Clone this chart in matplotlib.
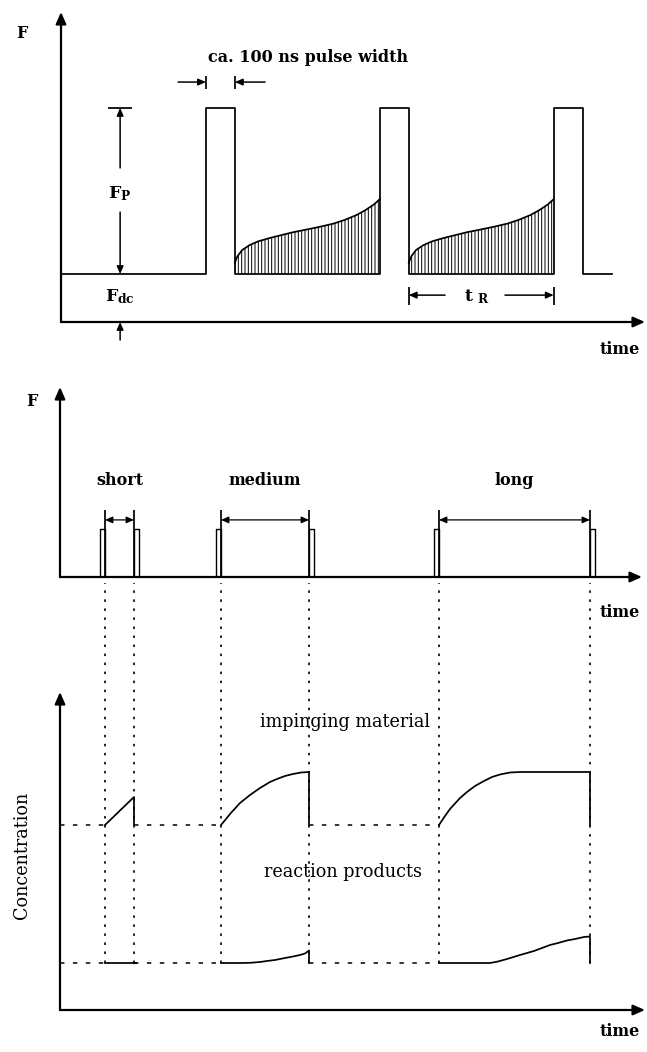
import matplotlib.pyplot as plt
import numpy as np

plt.rcParams["font.family"] = "DejaVu Serif"
plt.rcParams["mathtext.fontset"] = "dejavuserif"
plt.rcParams["lines.scale_dashes"] = False
plt.rcParams["hatch.linewidth"] = 0.7

# ---- panel 1: pulsed flux, time in ns, flux in units of F_dc ----
pulse_starts_ns = [500, 1100, 1700]
pulse_width_ns = 100
trace_end_ns = 1900
time_end_ns = 2015
f_dc = 1.0
f_peak = 4.46
f_top = 6.46
# desorption tail between pulses (height above F_dc), hatched area
tail_dt_ns = [0, 5, 10, 25, 50, 80, 120, 160, 200, 250, 290, 340, 380, 420, 450, 480, 500]
tail_f = [0.23, 0.32, 0.38, 0.50, 0.60, 0.68, 0.75, 0.81, 0.87, 0.93, 0.98, 1.05, 1.13, 1.23, 1.33, 1.45, 1.56]

# ---- panel 2: probe pulse pairs, arbitrary time units ----
interval_names = ["short", "medium", "long"]
interval_start = [4.5, 16.1, 37.9]
interval_end = [7.4, 24.9, 53.0]
probe_width = 0.5
probe_height = 1.0
p2_time_end = 58.2
p2_top = 3.96

# ---- panel 3: concentrations ----
imp_base = 18.5
rxn_base = 4.7
imp_t = [[4.5, 7.4],
         [16.1, 16.6, 17.0, 18.0, 19.0, 20.0, 21.0, 21.7, 22.5, 23.3, 24.1, 24.9],
         [37.9, 38.5, 39.0, 40.0, 40.7, 41.5, 42.4, 43.2, 44.0, 45.0, 46.0, 53.0]]
imp_c = [[18.5, 21.3],
         [18.5, 19.1, 19.6, 20.7, 21.5, 22.2, 22.8, 23.1, 23.4, 23.6, 23.75, 23.8],
         [18.5, 19.4, 20.1, 21.2, 21.8, 22.4, 22.9, 23.3, 23.55, 23.75, 23.8, 23.8]]
rxn_t = [[4.5, 7.6],
         [16.1, 18.0, 19.0, 20.0, 20.7, 21.5, 22.5, 23.3, 24.0, 24.5, 24.9],
         [37.9, 43.0, 43.8, 44.7, 46.0, 47.4, 48.2, 49.0, 49.8, 50.7, 51.5, 52.4, 53.0]]
rxn_c = [[4.7, 4.7],
         [4.7, 4.7, 4.72, 4.8, 4.9, 5.0, 5.2, 5.35, 5.5, 5.65, 5.95],
         [4.7, 4.7, 4.85, 5.1, 5.5, 5.9, 6.2, 6.5, 6.7, 6.95, 7.1, 7.3, 7.35]]
p3_time_end = 58.5
p3_c_top = 31.8
p3_ylim = 43.3

W, H = 647, 1052
fig = plt.figure(figsize=(W / 100, H / 100), dpi=100)


def px_axes(x0, x1, y_top, y_bottom):
    ax = fig.add_axes([x0 / W, 1 - y_bottom / H, (x1 - x0) / W, (y_bottom - y_top) / H])
    ax.set_axis_off()
    return ax


def arrow(ax, start, end, style="-|>", lw=1.1, ms=11):
    ax.annotate("", xy=end, xytext=start, annotation_clip=False,
                arrowprops=dict(arrowstyle=style + ",head_length=0.5,head_width=0.22",
                                color="k", lw=lw, mutation_scale=ms,
                                shrinkA=0, shrinkB=0))


bold = dict(fontsize=11.5, fontweight="bold", ha="center", va="center")
reg = dict(fontsize=12.7, ha="center", va="center")
dots = (0, (1.8, 4.7))
dashes = (0, (3.2, 6.1))
LW = 1.25
AXW = 1.6

# ================= panel 1 =================
ax1 = px_axes(61, 645, 12, 322)
ax1.set_xlim(0, time_end_ns)
ax1.set_ylim(0, f_top)

tx, ty = [0], [f_dc]
for s in pulse_starts_ns:
    e = s + pulse_width_ns
    tx += [s, s, e, e]
    ty += [f_dc, f_peak, f_peak, f_dc]
tx.append(trace_end_ns)
ty.append(f_dc)
ax1.plot(tx, ty, color="k", lw=LW)

for s in pulse_starts_ns[:-1]:
    t0 = s + pulse_width_ns
    t = np.array(tail_dt_ns) + t0
    f = np.array(tail_f) + f_dc
    ax1.fill_between(t, f_dc, f, facecolor="none", edgecolor="k",
                     hatch="|||||", linewidth=0)
    ax1.plot(t, f, color="k", lw=LW)

arrow(ax1, (0, 0), (0, f_top), lw=AXW, ms=14)
arrow(ax1, (0, 0), (time_end_ns, 0), lw=AXW, ms=14)

# pulse width marker
p0 = pulse_starts_ns[0]
p1 = p0 + pulse_width_ns
ax1.text(852, 5.52, "ca. 100 ns pulse width", **bold)
arrow(ax1, (p0 - 96, 5.0), (p0, 5.0), ms=9)
arrow(ax1, (p1 + 104, 5.0), (p1, 5.0), ms=9)
ax1.vlines([p0, p1], 4.86, 5.12, color="k", lw=LW)

# F_P and F_dc
xm = 204
ax1.hlines(f_peak, 162, 245, color="k", lw=LW)
arrow(ax1, (xm, 3.21), (xm, f_peak), ms=9)
arrow(ax1, (xm, 2.29), (xm, f_dc), ms=9)
ax1.text(xm, 2.68, r"$\mathbf{F_P}$", fontsize=12.5, ha="center", va="center")
ax1.text(xm, 0.52, r"$\mathbf{F_{dc}}$", fontsize=12.5, ha="center", va="center")
arrow(ax1, (xm, -0.375), (xm, 0), ms=9)

# t_R
r0 = pulse_starts_ns[1] + pulse_width_ns
r1 = pulse_starts_ns[2]
ax1.vlines([r0, r1], 0.35, 0.73, color="k", lw=LW)
arrow(ax1, (r0 + 125, 0.56), (r0, 0.56), ms=9)
arrow(ax1, (r1 - 168, 0.56), (r1, 0.56), ms=9)
ax1.text((r0 + r1) / 2 - 15, 0.52, r"$\mathbf{t\ _R}$", fontsize=12.5, ha="center", va="center")

ax1.text(-135, 6.02, "F", **bold)
ax1.text(1998, -0.58, "time", fontsize=11.5, fontweight="bold", ha="right", va="center")

# ================= panel 2 =================
ax2 = px_axes(60, 642, 387, 577)
ax2.set_xlim(0, p2_time_end)
ax2.set_ylim(0, p2_top)

for name, s, e in zip(interval_names, interval_start, interval_end):
    ax2.plot([s - probe_width, s - probe_width, s, s],
             [0, probe_height, probe_height, 0], color="k", lw=1.0)
    ax2.plot([e, e, e + probe_width, e + probe_width],
             [0, probe_height, probe_height, 0], color="k", lw=1.0)
    ax2.vlines([s, e], 0, 1.4, color="k", lw=LW)
    arrow(ax2, (s, 1.19), (e, 1.19), style="<|-|>", lw=0.9, ms=9)
    ax2.text((s + e) / 2, 2.02, name, **bold)

arrow(ax2, (0, 0), (0, p2_top), lw=AXW, ms=14)
arrow(ax2, (0, 0), (p2_time_end, 0), lw=AXW, ms=14)
ax2.text(-2.8, 3.65, "F", **bold)
ax2.text(58.0, -0.73, "time", fontsize=11.5, fontweight="bold", ha="right", va="center")

# ================= panel 3 =================
ax3 = px_axes(60, 645, 577, 1010)
ax3.set_xlim(0, p3_time_end)
ax3.set_ylim(0, p3_ylim)

gaps_from = [0] + interval_end[:-1]
gaps_to = interval_start
for a, b in zip(gaps_from, gaps_to):
    ax3.plot([a, b], [imp_base, imp_base], color="k", lw=1.1, ls=dashes)
    ax3.plot([a, b], [rxn_base, rxn_base], color="k", lw=1.1, ls=dashes)

for s, e in zip(interval_start, interval_end):
    ax3.vlines([s, e], rxn_base, 42.7, color="k", lw=1.2, linestyles=[dots])

for t, c in zip(imp_t, imp_c):
    ax3.plot(t + [t[-1]], c + [imp_base], color="k", lw=LW)
for t, c, e in zip(rxn_t, rxn_c, interval_end):
    ax3.plot(t + [e], c + [rxn_base], color="k", lw=LW)

arrow(ax3, (0, 0), (0, p3_c_top), lw=AXW, ms=14)
arrow(ax3, (0, 0), (p3_time_end, 0), lw=AXW, ms=14)

ax3.text(28.5, 28.8, "impinging material", **reg)
ax3.text(28.3, 13.8, "reaction products", **reg)
ax3.text(-3.8, 15.5, "Concentration", rotation=90, **reg)
ax3.text(58.0, -2.2, "time", fontsize=11.5, fontweight="bold", ha="right", va="center")

fig.savefig("out.png", dpi=100)
